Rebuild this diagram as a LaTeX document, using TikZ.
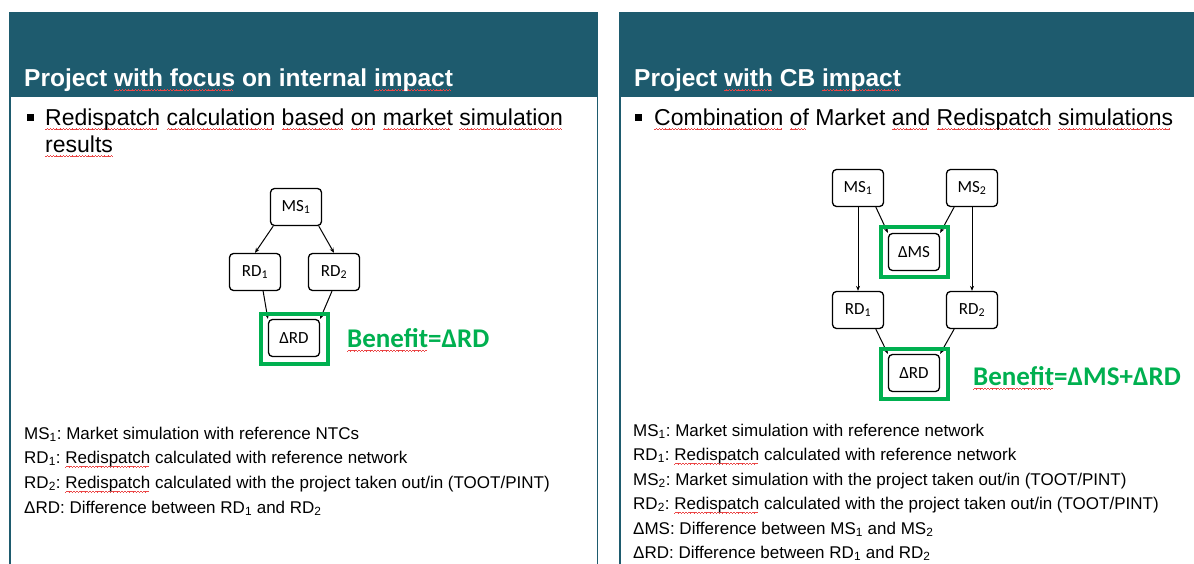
\documentclass[tikz,border=0pt]{standalone}
\usepackage{fontspec}
\setmainfont{Liberation Sans}
\newfontfamily\calfont{Carlito}
\usetikzlibrary{arrows.meta}
\definecolor{hdr}{RGB}{30,91,110}
\definecolor{bgreen}{RGB}{0,176,80}
\definecolor{sqred}{RGB}{235,70,70}
\frenchspacing
\newcommand\wv{\rule[0pt]{0.8pt}{0.5pt}\rule[0.5pt]{0.8pt}{0.5pt}\rule[1pt]{0.8pt}{0.5pt}\rule[0.5pt]{0.8pt}{0.5pt}}
\newcommand\sq[1]{\setbox0=\hbox{#1}\rlap{\color{sqred}\raisebox{-4pt}{\leaders\hbox{\wv}\hskip\wd0}}#1}
\tikzset{
 hdrtext/.style={anchor=base west, text=white, font=\fontsize{24.5}{28}\selectfont\bfseries, inner sep=0},
 bultext/.style={anchor=base west, font=\fontsize{23}{27}\selectfont, inner sep=0},
 legtext/.style={anchor=base west, font=\fontsize{17}{20}\selectfont, inner sep=0},
 box/.style={draw=black, line width=1.3, rounded corners=4, minimum width=51, minimum height=37, inner sep=0, font=\calfont\fontsize{17}{20}\selectfont},
 frame/.style={draw=bgreen, line width=4, minimum width=67, minimum height=50, inner sep=0},
 benefit/.style={anchor=base west, text=bgreen, font=\calfont\bfseries\fontsize{27}{32}\selectfont, inner sep=0},
 conn/.style={line width=1, -{Stealth[length=5,width=4]}},
 bulletsq/.style={fill=black, minimum size=7, inner sep=0},
}
\begin{document}
\begin{tikzpicture}[x=1pt,y=-1pt]
\useasboundingbox (0,0) rectangle (1194,564);
\clip (0,0) rectangle (1194,564);
\fill[white] (0,0) rectangle (1194,564);
% panels
\draw[hdr, line width=1.5] (10,13) rectangle (597.5,580);
\fill[hdr] (10,13) rectangle (597.5,97);
\draw[hdr, line width=1.5] (620,13) rectangle (1210,580);
\fill[hdr] (620,13) rectangle (1210,97);
% titles
\node[hdrtext] (t1) at (24,87) {Project \sq{with focus} on internal \sq{impact}};
\node[hdrtext] (t2) at (634,87) {Project \sq{with} CB \sq{impact}};
% bullets
\node[bulletsq] (b1) at (30,118) {};
\node[bultext] (l1a) at (45,126) {\sq{Redispatch} \sq{calculation} \sq{based} \sq{on} \sq{market} \sq{simulation}};
\node[bultext] (l1b) at (45,153) {\sq{results}};
\node[bulletsq] (b2) at (638,118) {};
\node[bultext] (l2) at (654,126) {\sq{Combination} \sq{of} Market \sq{and} \sq{Redispatch} \sq{simulations}};
% left diagram
\node[box] (aMS) at (296,207) {MS\textsubscript{1}};
\node[box] (aRD1) at (255,272) {RD\textsubscript{1}};
\node[box] (aRD2) at (334,272) {RD\textsubscript{2}};
\node[box] (aDRD) at (294,338) {ΔRD};
\draw[conn] (aMS.220) -- (aRD1.north);
\draw[conn] (aMS.320) -- (aRD2.north);
\draw[conn] (aRD1.293) -- (aDRD.north west);
\draw[conn] (aRD2.264) -- (aDRD.north east);
\node[frame] (aF) at (294,338.5) {};
\node[benefit] (aB) at (347,347) {\sq{Benefit}=ΔRD};
% right diagram
\node[box] (bMS1) at (858,188) {MS\textsubscript{1}};
\node[box] (bMS2) at (972,188) {MS\textsubscript{2}};
\node[box] (bDMS) at (914,252) {ΔMS};
\node[box] (bRD1) at (858,310) {RD\textsubscript{1}};
\node[box] (bRD2) at (972,310) {RD\textsubscript{2}};
\node[box] (bDRD) at (914,373) {ΔRD};
\draw[conn] (bMS1.south) -- (bRD1.north);
\draw[conn] (bMS2.south) -- (bRD2.north);
\draw[conn] (bMS1.313) -- (bDMS.north west);
\draw[conn] (bMS2.227) -- (bDMS.north east);
\draw[conn] (bRD1.313) -- (bDRD.north west);
\draw[conn] (bRD2.227) -- (bDRD.north east);
\node[frame] (bF1) at (914,252) {};
\node[frame] (bF2) at (914,374) {};
\node[benefit] (bB) at (973,385) {\sq{Benefit}=ΔMS+ΔRD};
% left legend
\node[legtext] (la1) at (24,439) {MS\textsubscript{1}: Market simulation with reference NTCs};
\node[legtext] (la2) at (24,463) {RD\textsubscript{1}: \sq{Redispatch} calculated with reference network};
\node[legtext] (la3) at (24,488) {RD\textsubscript{2}: \sq{Redispatch} calculated with the project taken out/in (TOOT/PINT)};
\node[legtext] (la4) at (24,513) {ΔRD: Difference between RD\textsubscript{1} and RD\textsubscript{2}};
% right legend
\node[legtext] (lb1) at (633,436) {MS\textsubscript{1}: Market simulation with reference network};
\node[legtext] (lb2) at (633,460) {RD\textsubscript{1}: \sq{Redispatch} calculated with reference network};
\node[legtext] (lb3) at (633,485) {MS\textsubscript{2}: Market simulation with the project taken out/in (TOOT/PINT)};
\node[legtext] (lb4) at (633,509) {RD\textsubscript{2}: \sq{Redispatch} calculated with the project taken out/in (TOOT/PINT)};
\node[legtext] (lb5) at (633,534) {ΔMS: Difference between MS\textsubscript{1} and MS\textsubscript{2}};
\node[legtext] (lb6) at (633,558) {ΔRD: Difference between RD\textsubscript{1} and RD\textsubscript{2}};
\end{tikzpicture}
\end{document}
